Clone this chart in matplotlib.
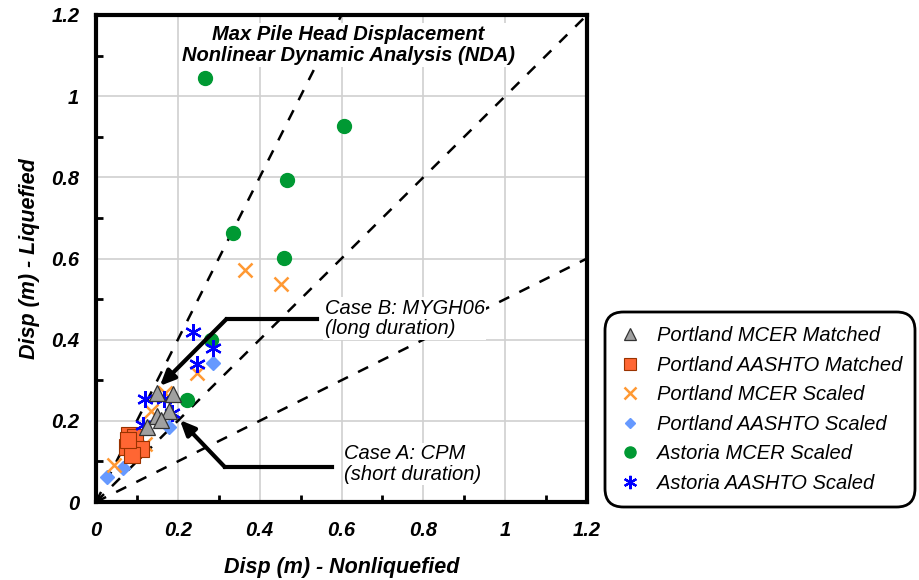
import matplotlib
matplotlib.use("Agg")
import matplotlib.pyplot as plt
import numpy as np
from matplotlib.ticker import MultipleLocator
from matplotlib.patches import FancyBboxPatch

plt.rcParams['font.family'] = ['Liberation Sans', 'DejaVu Sans']

# Data
pm_matched_x = [0.148, 0.187, 0.178, 0.148, 0.160, 0.125]
pm_matched_y = [0.269, 0.265, 0.224, 0.212, 0.202, 0.185]

pa_matched_x = [0.081, 0.095, 0.076, 0.091, 0.111, 0.089, 0.079]
pa_matched_y = [0.165, 0.161, 0.136, 0.128, 0.130, 0.116, 0.153]

pm_scaled_x = [0.363, 0.451, 0.248, 0.168, 0.134, 0.120, 0.044]
pm_scaled_y = [0.571, 0.537, 0.318, 0.268, 0.224, 0.144, 0.091]

pa_scaled_x = [0.285, 0.178, 0.065, 0.028, 0.100]
pa_scaled_y = [0.342, 0.184, 0.083, 0.062, 0.150]

am_scaled_x = [0.266, 0.607, 0.466, 0.334, 0.459, 0.282, 0.223]
am_scaled_y = [1.044, 0.926, 0.793, 0.663, 0.601, 0.400, 0.251]

aa_scaled_x = [0.237, 0.286, 0.248, 0.120, 0.166, 0.115, 0.185]
aa_scaled_y = [0.419, 0.379, 0.339, 0.253, 0.253, 0.190, 0.219]

ratio_lines = [0.5, 1.0, 2.0]
ticks = [0, 0.2, 0.4, 0.6, 0.8, 1.0, 1.2]
tick_labels = ["0", "0.2", "0.4", "0.6", "0.8", "1", "1.2"]

W, H = 919, 580
fig = plt.figure(figsize=(W/100, H/100), dpi=100)
ax = fig.add_axes([96/W, 1-502/H, 491/W, 487/H])
ax.set_xlim(0, 1.2)
ax.set_ylim(0, 1.2)

ax.set_xticks(ticks)
ax.set_xticklabels(tick_labels)
ax.set_yticks(ticks)
ax.set_yticklabels(tick_labels)
ax.xaxis.set_minor_locator(MultipleLocator(0.1))
ax.yaxis.set_minor_locator(MultipleLocator(0.1))
ax.tick_params(axis='x', which='major', length=0, pad=14)
ax.tick_params(axis='y', which='major', length=0, pad=12)
ax.tick_params(which='minor', direction='in', length=5, width=2)
for lab in ax.get_xticklabels() + ax.get_yticklabels():
    lab.set_fontweight('bold')
    lab.set_fontstyle('italic')
    lab.set_fontsize(14.5)
ax.grid(True, which='major', color='#d0d0d0', linewidth=1.2, zorder=0)
for s in ax.spines.values():
    s.set_linewidth(3)
    s.set_zorder(10)

xs = np.array([0, 1.2])
for r in ratio_lines:
    ax.plot(xs, r * xs, color='black', linestyle=(0, (4.5, 4.5)), linewidth=1.8, zorder=2)

ax.plot(pa_scaled_x, pa_scaled_y, linestyle='none', marker='D', markersize=7,
        color='#6699ff', label='Portland AASHTO Scaled', zorder=3)
ax.plot(am_scaled_x, am_scaled_y, linestyle='none', marker='o', markersize=10,
        color='#009933', label='Astoria MCER Scaled', zorder=3)
ax.plot(pm_scaled_x, pm_scaled_y, linestyle='none', marker='x', markersize=10,
        markeredgewidth=1.8, color='#ff9933', label='Portland MCER Scaled', zorder=4)
ax.plot(pa_matched_x, pa_matched_y, linestyle='none', marker='s', markersize=11,
        markerfacecolor='#ff6633', markeredgecolor='#993300', markeredgewidth=0.8,
        label='Portland AASHTO Matched', zorder=4)
ax.plot(aa_scaled_x, aa_scaled_y, linestyle='none', marker=(6, 2, 0), markersize=12,
        markeredgewidth=1.6, color='#0000ff', label='Astoria AASHTO Scaled', zorder=5)
ax.plot(pm_matched_x, pm_matched_y, linestyle='none', marker='^', markersize=11,
        markerfacecolor='#a0a0a0', markeredgecolor='#333333', markeredgewidth=0.9,
        label='Portland MCER Matched', zorder=6)

# Annotations
ax.plot([0.541, 0.319], [0.451, 0.451], color='black', linewidth=3, zorder=7)
ax.annotate('', xy=(0.156, 0.286), xytext=(0.319, 0.451),
            arrowprops=dict(arrowstyle='-|>,head_length=0.9,head_width=0.4', color='black',
                            linewidth=3, shrinkA=0, shrinkB=0), zorder=7)
ax.plot([0.578, 0.315], [0.086, 0.086], color='black', linewidth=3, zorder=7)
ax.annotate('', xy=(0.205, 0.202), xytext=(0.315, 0.086),
            arrowprops=dict(arrowstyle='-|>,head_length=0.9,head_width=0.4', color='black',
                            linewidth=3, shrinkA=0, shrinkB=0), zorder=7)

ax.text(0.559, 0.452, 'Case B: MYGH06\n(long duration)', fontsize=14.5, fontstyle='italic',
        ha='left', va='center', linespacing=1.1,
        bbox=dict(facecolor='white', edgecolor='none', pad=1), zorder=8)
ax.text(0.607, 0.094, 'Case A: CPM\n(short duration)', fontsize=14.5, fontstyle='italic',
        ha='left', va='center', linespacing=1.1,
        bbox=dict(facecolor='white', edgecolor='none', pad=1), zorder=8)
ax.text(0.617, 1.126, 'Max Pile Head Displacement\nNonlinear Dynamic Analysis (NDA)',
        fontsize=14.5, fontweight='bold', fontstyle='italic', ha='center', va='center',
        linespacing=1.15, bbox=dict(facecolor='white', edgecolor='none', pad=1), zorder=8)

ax.set_xlabel('Disp (m) - Nonliquefied', fontsize=15.5, fontweight='bold', fontstyle='italic',
              labelpad=12)
ax.set_ylabel('Disp (m) - Liquefied', fontsize=15.5, fontweight='bold', fontstyle='italic',
              labelpad=8)

# Legend frame (rounded box)
box = FancyBboxPatch((605/W, 1-507/H), 310/W, 195/H,
                     boxstyle='round,pad=0,rounding_size=0.02',
                     transform=fig.transFigure, facecolor='white', edgecolor='black',
                     linewidth=2, mutation_aspect=W/H)
fig.patches.append(box)

handles, labels = ax.get_legend_handles_labels()
order = ['Portland MCER Matched', 'Portland AASHTO Matched', 'Portland MCER Scaled',
         'Portland AASHTO Scaled', 'Astoria MCER Scaled', 'Astoria AASHTO Scaled']
hmap = dict(zip(labels, handles))
leg = fig.legend([hmap[o] for o in order], order, loc='center left',
                 bbox_to_anchor=(618/W, 1-409.5/H), frameon=False,
                 prop=dict(size=14.5, style='italic'), handlelength=1.2, handletextpad=0.75,
                 labelspacing=0.52, borderpad=0, borderaxespad=0, markerscale=0.8)

fig.savefig('out.png', dpi=100)
